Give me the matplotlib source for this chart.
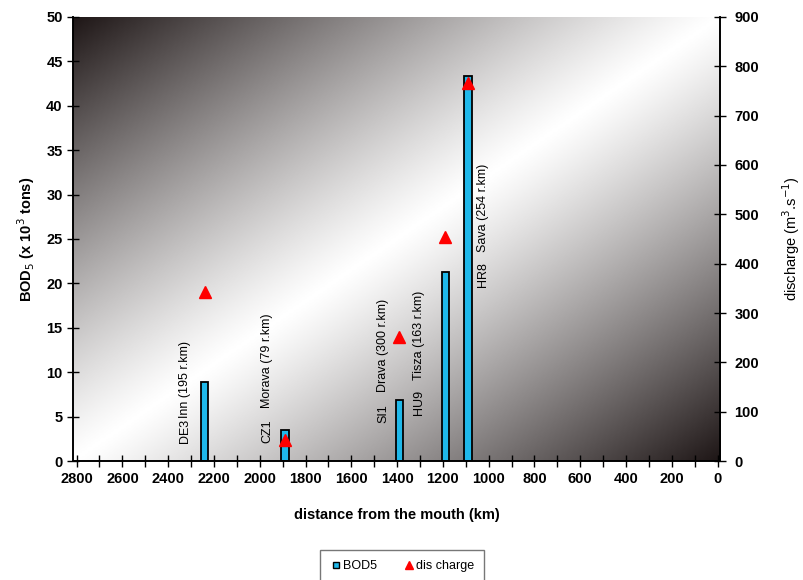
import numpy as np
import matplotlib.pyplot as plt
from matplotlib.colors import LinearSegmentedColormap
from matplotlib.lines import Line2D

plt.rcParams['font.family'] = ['Liberation Sans', 'DejaVu Sans']

# stations along the Danube
dist_km = [2240, 1890, 1390, 1190, 1090]
bod5 = [8.9, 3.5, 6.9, 21.3, 43.3]          # x 10^3 tons
discharge = [343, 43, 251, 454, 766]        # m3/s
codes = ['DE3', 'CZ1', 'SI1', 'HU9', 'HR8']
rivers = ['Inn (195 r.km)', 'Morava (79 r.km)', 'Drava (300 r.km)',
          'Tisza (163 r.km)', 'Sava (254 r.km)']

# label placement (x in km, y in left-axis units)
lab_x = [2325, 1968, 1462, 1305, 1025]
code_y = [2.0, 2.0, 4.3, 5.2, 19.6]
river_y = [4.8, 6.0, 7.8, 9.1, 23.5]

fig = plt.figure(figsize=(8.04, 5.8), dpi=100)
ax = fig.add_axes([0.091, 0.205, 0.805, 0.766])

# diagonal black-white-black background
u, v = np.meshgrid(np.linspace(0, 1, 400), np.linspace(1, 0, 300))
t = (u + (1 - v)) / 2
val = np.abs(2 * t - 1) ** 1.15
cmap = LinearSegmentedColormap.from_list('bg', ['#ffffff', '#1e1616'])
ax.imshow(val, cmap=cmap, vmin=0, vmax=1, extent=[0, 1, 0, 1],
          transform=ax.transAxes, aspect='auto', zorder=0, interpolation='bilinear')

ax.bar(dist_km, bod5, width=32, color='#1fb8ea', edgecolor='black',
       linewidth=1.3, zorder=2)

for x, c, r, cy, ry in zip(lab_x, codes, rivers, code_y, river_y):
    ax.text(x, cy, c, rotation=90, ha='center', va='bottom', fontsize=9,
            zorder=3)
    ax.text(x, ry, r, rotation=90, ha='center', va='bottom', fontsize=9,
            zorder=3)

ax.set_xlim(2815, -12)
ax.set_ylim(0, 50)
ax.set_xticks(np.arange(2800, -1, -200))
ax.set_xticks(np.arange(2700, 0, -200), minor=True)
ax.set_yticks(np.arange(0, 51, 5))
ax.tick_params(axis='x', which='both', direction='inout', length=8, width=1)
ax.tick_params(axis='y', direction='inout', length=8, width=1)
for lab in ax.get_xticklabels() + ax.get_yticklabels():
    lab.set_fontweight('bold')
    lab.set_fontsize(10.5)

ax.set_xlabel('distance from the mouth (km)', fontsize=10.5, fontweight='bold',
              labelpad=16)
ax.set_ylabel('BOD$_5$ (x 10$^3$ tons)', fontsize=10.5, fontweight='bold')
ax.yaxis.set_label_coords(-0.056, 0.5)

ax2 = ax.twinx()
ax2.plot(dist_km, discharge, linestyle='none', marker='^', markersize=9,
         color='#ff0000', zorder=4)
ax2.set_ylim(0, 900)
ax2.set_yticks(np.arange(0, 901, 100))
ax2.tick_params(axis='y', direction='inout', length=8, width=1, pad=6)
for lab in ax2.get_yticklabels():
    lab.set_fontweight('bold')
    lab.set_fontsize(10.5)
ax2.set_ylabel('discharge (m$^3$.s$^{-1}$)', fontsize=10.5)
ax2.yaxis.set_label_coords(1.093, 0.5)

for a in (ax, ax2):
    a.spines['top'].set_visible(False)
    for s in ('left', 'right', 'bottom'):
        a.spines[s].set_linewidth(1.2)

handles = [Line2D([], [], linestyle='none', marker='s', markersize=5,
                  markerfacecolor='#1fb8ea', markeredgecolor='black'),
           Line2D([], [], linestyle='none', marker='^', markersize=6,
                  color='#ff0000')]
fig.legend(handles, ['BOD5', 'dis charge'], loc='center',
           bbox_to_anchor=(0.5, 0.024), ncol=2, fontsize=9, frameon=True,
           fancybox=False, edgecolor='#555555', handletextpad=0.1,
           columnspacing=2.0, borderpad=0.8, handlelength=1.0)

fig.savefig('out.png', dpi=100)
